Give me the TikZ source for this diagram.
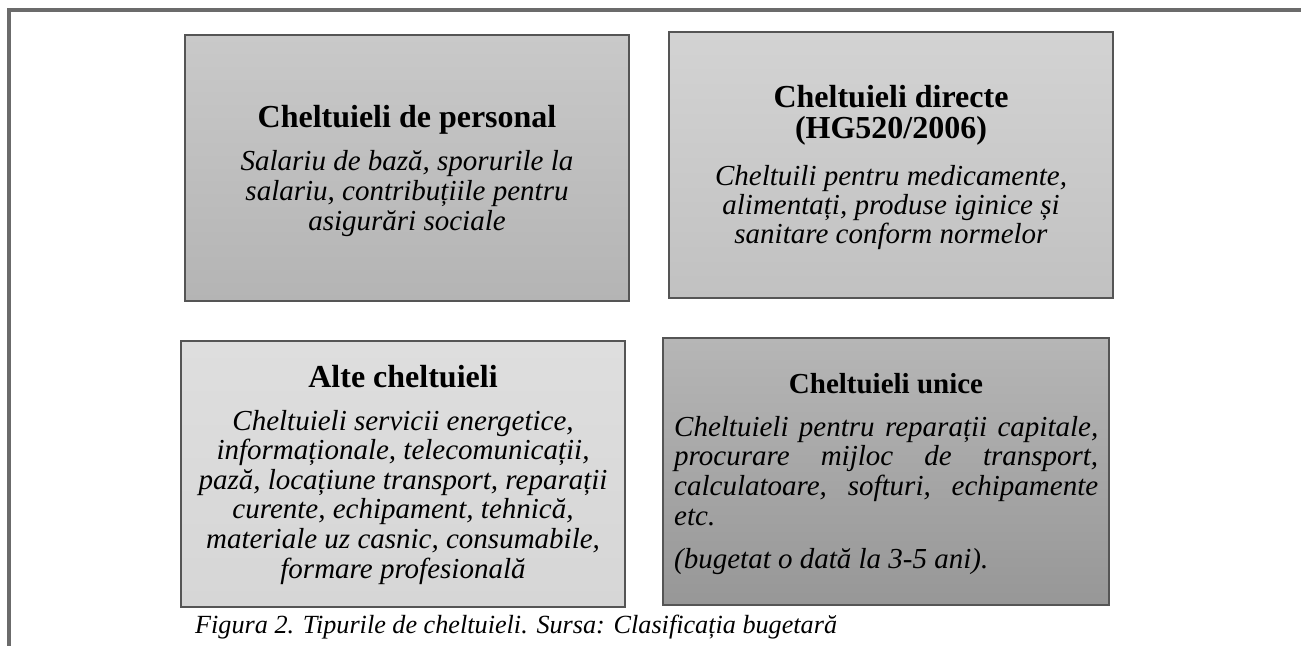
\documentclass[tikz,border=0pt]{standalone}
\usepackage{fontspec}
\setmainfont{Liberation Serif}
\definecolor{framegray}{HTML}{6B6B6B}
\definecolor{edgegray}{HTML}{555555}
\definecolor{aTop}{HTML}{C9C9C9}
\definecolor{aBot}{HTML}{B4B4B4}
\definecolor{bTop}{HTML}{D3D3D3}
\definecolor{bBot}{HTML}{C1C1C1}
\definecolor{cTop}{HTML}{DEDEDE}
\definecolor{cBot}{HTML}{D6D6D6}
\definecolor{dTop}{HTML}{B6B6B6}
\definecolor{dBot}{HTML}{979797}
\begin{document}
\begin{tikzpicture}[x=1pt,y=-1pt,
  box/.style={draw=edgegray, line width=1.3pt, inner sep=0pt, minimum height=266pt},
  ttl/.style={anchor=base, inner sep=0pt, font=\fontsize{32}{32}\selectfont\bfseries},
  ttlsmall/.style={anchor=base, inner sep=0pt, font=\fontsize{29}{29}\selectfont\bfseries},
  body/.style={anchor=base, inner sep=0pt, font=\fontsize{29}{30}\selectfont\itshape},
  bodyw/.style={anchor=base west, inner sep=0pt, font=\fontsize{29}{30}\selectfont\itshape},
  capt/.style={anchor=base west, inner sep=0pt, font=\fontsize{26.2}{28}\selectfont\itshape}
]
\useasboundingbox (0,0) rectangle (1301,646);
\fill[white] (0,0) rectangle (1301,646);
\draw[line width=4pt, color=framegray] (1301,10) -- (9,10) -- (9,646);

% boxes
\node[box, minimum width=444pt, top color=aTop, bottom color=aBot] (b1) at (407,168) {};
\node[box, minimum width=444pt, top color=bTop, bottom color=bBot] (b2) at (891,165) {};
\node[box, minimum width=444pt, top color=cTop, bottom color=cBot] (b3) at (403,474) {};
\node[box, minimum width=446pt, minimum height=267pt, top color=dTop, bottom color=dBot] (b4) at (886,471.5) {};

% box 1
\node[ttl] (t1) at (407,127) {Cheltuieli de personal};
\node[body] (t1a) at (407,170) {Salariu de bază, sporurile la};
\node[body] (t1b) at (407,200) {salariu, contribuțiile pentru};
\node[body] (t1c) at (407,230) {asigurări sociale};

% box 2
\node[ttl] (t2) at (891,107) {Cheltuieli directe};
\node[ttl] (t2x) at (891,138) {(HG520/2006)};
\node[body] (t2a) at (891,185) {Cheltuili pentru medicamente,};
\node[body] (t2b) at (891,214) {alimentați, produse iginice și};
\node[body] (t2c) at (891,243) {sanitare conform normelor};

% box 3
\node[ttl] (t3) at (403,387) {Alte cheltuieli};
\node[body] (t3a) at (403,430) {Cheltuieli servicii energetice,};
\node[body] (t3b) at (403,459.6) {informaționale, telecomunicații,};
\node[body] (t3c) at (403,489.2) {pază, locațiune transport, reparații};
\node[body] (t3d) at (403,518.8) {curente, echipament, tehnică,};
\node[body] (t3e) at (403,548.4) {materiale uz casnic, consumabile,};
\node[body] (t3f) at (403,578) {formare profesională};

% box 4
\node[ttlsmall] (t4) at (886,393) {Cheltuieli unice};
\node[bodyw] (t4a) at (674,436) {\makebox[424pt][s]{Cheltuieli pentru reparații capitale,}};
\node[bodyw] (t4b) at (674,465.5) {\makebox[424pt][s]{procurare mijloc de transport,}};
\node[bodyw] (t4c) at (674,495) {\makebox[424pt][s]{calculatoare, softuri, echipamente}};
\node[bodyw] (t4d) at (674,525) {etc.};
\node[bodyw] (t4e) at (674,568) {(bugetat o dată la 3-5 ani).};

% caption
\node[capt] (cap) at (195,633) {Figura 2. Tipurile de cheltuieli. Sursa: Clasificația bugetară};
\end{tikzpicture}
\end{document}
